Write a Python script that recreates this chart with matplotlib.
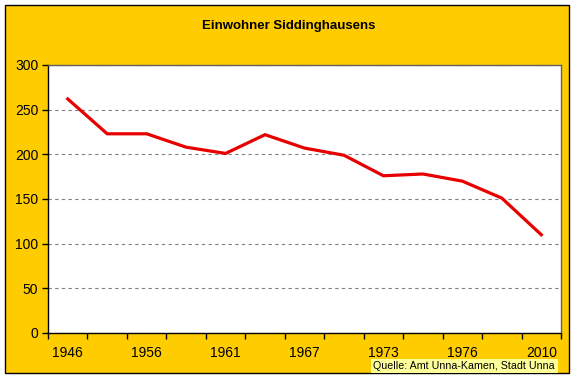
import matplotlib
matplotlib.use("Agg")
import matplotlib.pyplot as plt
from matplotlib.patches import Rectangle
from matplotlib.ticker import FixedLocator, MultipleLocator

plt.rcParams['font.family'] = ['Liberation Sans', 'DejaVu Sans']

# Data (13 categories; only every other label is shown in the original)
tick_labels = ["1946", "", "1956", "", "1961", "", "1967", "", "1973", "", "1976", "", "2010"]
einwohner = [262, 223, 223, 208, 201, 222, 207, 199, 176, 178, 170, 151, 110]
title = "Einwohner Siddinghausens"
source = "Quelle: Amt Unna-Kamen, Stadt Unna"

W, H = 576, 379
fig = plt.figure(figsize=(W / 100, H / 100), dpi=100)
fig.patch.set_facecolor("white")

# gold chart area with black border
fig.patches.append(Rectangle((5 / W, 1 - 373 / H), (569 - 5) / W, (373 - 5) / H,
                             transform=fig.transFigure, facecolor="#FFCC00",
                             edgecolor="black", linewidth=1.0, zorder=-10))

ax = fig.add_axes([48 / W, 1 - 333 / H, (561 - 48) / W, (333 - 65) / H])
ax.set_zorder(1)
ax.set_facecolor("white")

x = list(range(len(einwohner)))
ax.plot(x, einwohner, color="#E80000", linewidth=2.3, solid_joinstyle="miter", zorder=3)

ax.set_xlim(-0.5, len(einwohner) - 0.5)
ax.set_ylim(0, 300)
ax.yaxis.set_major_locator(MultipleLocator(50))

ax.set_xticks(x)
ax.set_xticklabels(tick_labels)
ax.xaxis.set_minor_locator(FixedLocator([i - 0.5 for i in range(len(einwohner) + 1)]))
ax.tick_params(axis="x", which="major", length=0, pad=9.5, labelsize=10)
ax.tick_params(axis="x", which="minor", length=4, width=1, direction="out", color="black")
ax.tick_params(axis="y", which="major", length=4, width=1, direction="out", labelsize=10, pad=3)

ax.grid(axis="y", color="#808080", linestyle=(0, (3, 3)), linewidth=0.8)
ax.set_axisbelow(True)

for s in ("left", "bottom"):
    ax.spines[s].set_color("black")
    ax.spines[s].set_linewidth(1.0)
for s in ("top", "right"):
    ax.spines[s].set_color("#606060")
    ax.spines[s].set_linewidth(1.0)

fig.text(289 / W, 1 - 26 / H, title, ha="center", va="center",
         fontsize=9.5, fontweight="bold", zorder=5)

# source box
fig.patches.append(Rectangle((371 / W, 1 - 373 / H), (558 - 371) / W, (373 - 359) / H,
                             transform=fig.transFigure, facecolor="#FFFF99",
                             edgecolor="none", zorder=4))
fig.text(373 / W, 1 - 366 / H, source, ha="left", va="center", fontsize=7.7, zorder=5)

fig.savefig("out.png", dpi=100)
